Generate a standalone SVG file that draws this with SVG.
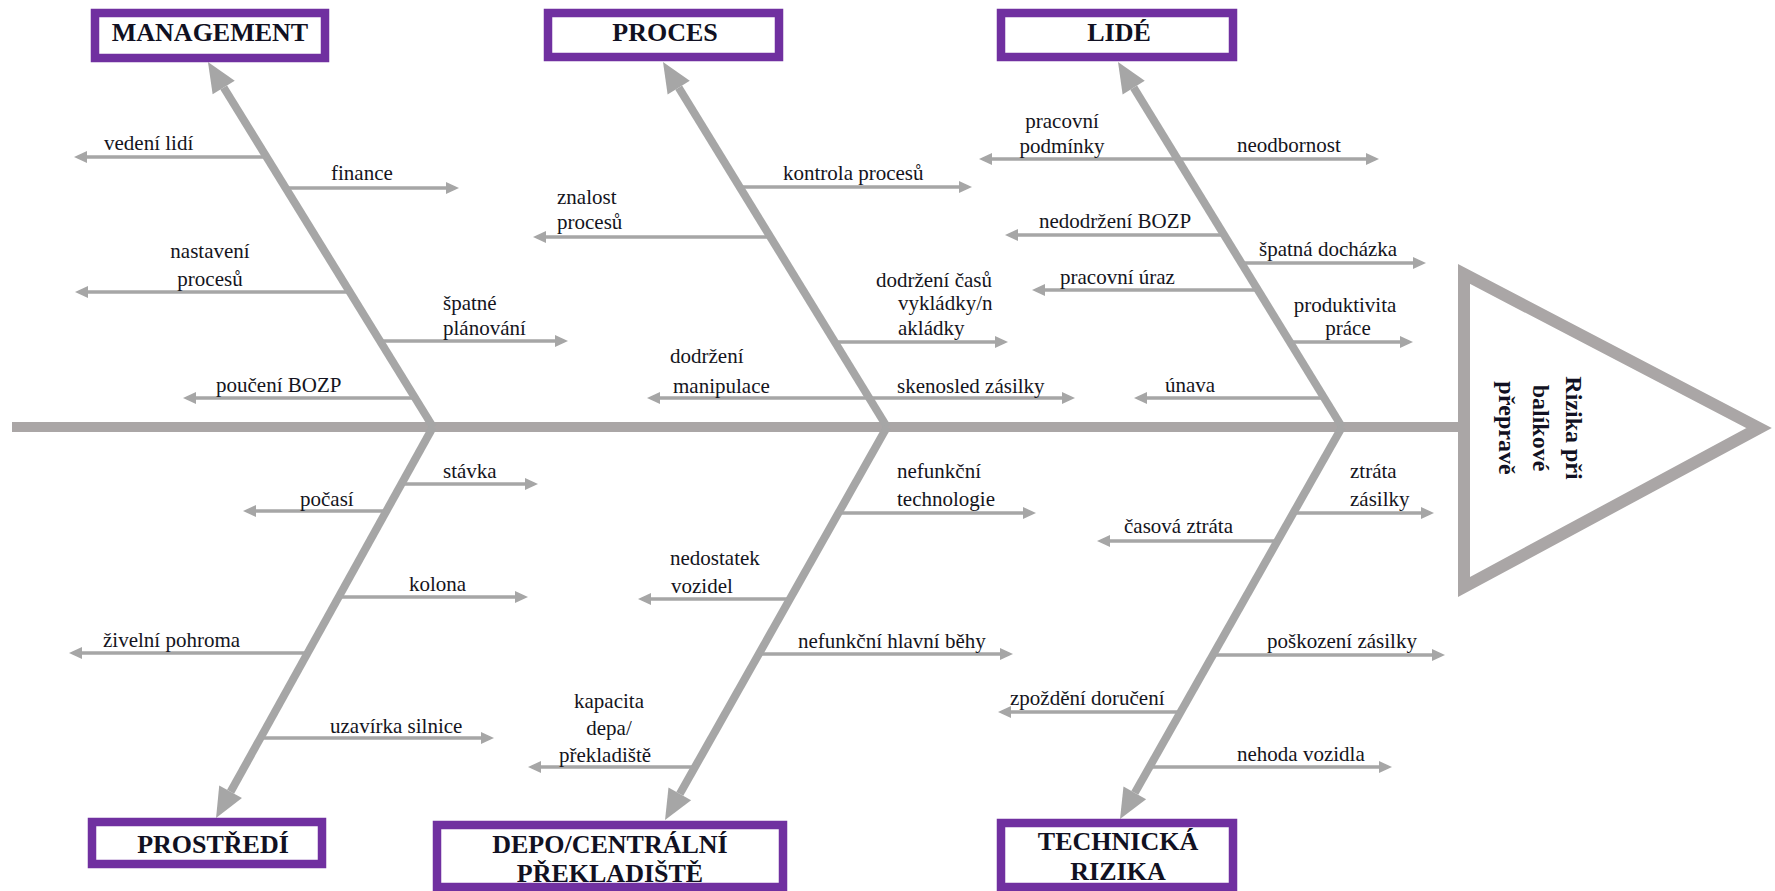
<svg xmlns="http://www.w3.org/2000/svg" width="1775" height="891" viewBox="0 0 1775 891">
<style>
.bg{fill:#ffffff}
.spine{stroke:#aaa6a6;stroke-width:10;fill:none}
.bone{stroke:#a6a6a6;stroke-width:8;fill:none;marker-end:url(#big)}
.sub{stroke:#a6a6a6;stroke-width:3.5;fill:none;marker-end:url(#sm)}
.box{fill:#ffffff;stroke:#7030a0;stroke-width:8.5}
.head{fill:#ffffff;stroke:#aaa6a6;stroke-width:12;stroke-linejoin:miter;stroke-miterlimit:10}
.t{font-family:"Liberation Serif","Times New Roman",serif;font-size:21px;fill:#141420}
.m{text-anchor:middle}
.title{font-family:"Liberation Serif","Times New Roman",serif;font-size:26px;font-weight:bold;fill:#111122;text-anchor:middle}
.eff{font-family:"Liberation Serif","Times New Roman",serif;font-size:24px;font-weight:bold;fill:#111122;text-anchor:middle}
</style>
<defs>
<marker id="big" markerUnits="userSpaceOnUse" markerWidth="40" markerHeight="40" viewBox="0 -20 40 40" refX="0" refY="0" orient="auto" overflow="visible"><path d="M0,-13 L30,0 L0,13 z" fill="#a6a6a6"/></marker>
<marker id="sm" markerUnits="userSpaceOnUse" markerWidth="20" markerHeight="20" viewBox="0 -10 20 20" refX="0" refY="0" orient="auto" overflow="visible"><path d="M0,-6 L13,0 L0,6 z" fill="#a6a6a6"/></marker>
</defs>
<rect class="bg" x="0" y="0" width="1775" height="891"/>

<g id="connectors">
<line class="spine" x1="12" y1="427" x2="1460" y2="427"/>
<line class="bone" x1="433" y1="427" x2="223.7" y2="87.5"/>
<line class="bone" x1="887" y1="427" x2="678.7" y2="87.6"/>
<line class="bone" x1="1342" y1="427" x2="1133.7" y2="87.6"/>
<line class="bone" x1="433" y1="427" x2="230.6" y2="791.8"/>
<line class="bone" x1="887" y1="427" x2="679.8" y2="793.9"/>
<line class="bone" x1="1342" y1="427" x2="1134.8" y2="792.9"/>

<line class="sub" x1="267" y1="157" x2="87" y2="157"/>
<line class="sub" x1="286" y1="188" x2="446" y2="188"/>
<line class="sub" x1="350" y1="292" x2="88" y2="292"/>
<line class="sub" x1="380" y1="341" x2="555" y2="341"/>
<line class="sub" x1="415" y1="398" x2="196" y2="398"/>

<line class="sub" x1="740" y1="187" x2="959" y2="187"/>
<line class="sub" x1="770" y1="237" x2="546" y2="237"/>
<line class="sub" x1="835" y1="342" x2="995" y2="342"/>
<line class="sub" x1="869" y1="398" x2="660" y2="398"/>
<line class="sub" x1="869" y1="398" x2="1062" y2="398"/>

<line class="sub" x1="1177" y1="159" x2="992" y2="159"/>
<line class="sub" x1="1177" y1="159" x2="1366" y2="159"/>
<line class="sub" x1="1224" y1="235" x2="1018" y2="235"/>
<line class="sub" x1="1241" y1="263" x2="1413" y2="263"/>
<line class="sub" x1="1258" y1="290" x2="1045" y2="290"/>
<line class="sub" x1="1290" y1="342" x2="1400" y2="342"/>
<line class="sub" x1="1324" y1="398" x2="1147" y2="398"/>

<line class="sub" x1="401" y1="484" x2="525" y2="484"/>
<line class="sub" x1="386" y1="511" x2="256" y2="511"/>
<line class="sub" x1="339" y1="597" x2="515" y2="597"/>
<line class="sub" x1="308" y1="653" x2="82" y2="653"/>
<line class="sub" x1="260" y1="738" x2="481" y2="738"/>

<line class="sub" x1="838" y1="513" x2="1023" y2="513"/>
<line class="sub" x1="790" y1="599" x2="651" y2="599"/>
<line class="sub" x1="759" y1="654" x2="1000" y2="654"/>
<line class="sub" x1="695" y1="767" x2="541" y2="767"/>

<line class="sub" x1="1293" y1="513" x2="1421" y2="513"/>
<line class="sub" x1="1277" y1="541" x2="1110" y2="541"/>
<line class="sub" x1="1213" y1="655" x2="1432" y2="655"/>
<line class="sub" x1="1181" y1="712" x2="1011" y2="712"/>
<line class="sub" x1="1150" y1="767" x2="1379" y2="767"/>
</g>

<g id="effect">
<polygon class="head" points="1464,274 1464,587 1759,428"/>
<g transform="translate(1566,428) rotate(90)">
<text class="eff" x="0" y="0">Rizika při</text>
<text class="eff" x="0" y="33">balíkové</text>
<text class="eff" x="0" y="67">přepravě</text>
</g>
</g>

<g id="management">
<rect class="box" x="95" y="13" width="230" height="45"/>
<text class="title" x="210" y="41">MANAGEMENT</text>
<text class="t" x="104" y="150">vedení lidí</text>
<text class="t" x="331" y="180">finance</text>
<text class="t m" x="210" y="258">nastavení</text>
<text class="t m" x="210" y="286">procesů</text>
<text class="t" x="443" y="310">špatné</text>
<text class="t" x="443" y="335">plánování</text>
<text class="t" x="216" y="392">poučení BOZP</text>
</g>

<g id="proces">
<rect class="box" x="548" y="13" width="231" height="44"/>
<text class="title" x="665" y="41">PROCES</text>
<text class="t" x="783" y="180">kontrola procesů</text>
<text class="t" x="557" y="204">znalost</text>
<text class="t" x="557" y="229">procesů</text>
<text class="t m" x="934" y="287">dodržení časů</text>
<text class="t" x="898" y="310">vykládky/n</text>
<text class="t" x="898" y="335">akládky</text>
<text class="t" x="670" y="363">dodržení</text>
<text class="t" x="673" y="393">manipulace</text>
<text class="t" x="897" y="393">skenosled zásilky</text>
</g>

<g id="lide">
<rect class="box" x="1001" y="13" width="232" height="44"/>
<text class="title" x="1119" y="41">LIDÉ</text>
<text class="t m" x="1062" y="128">pracovní</text>
<text class="t m" x="1062" y="153">podmínky</text>
<text class="t" x="1237" y="152">neodbornost</text>
<text class="t" x="1039" y="228">nedodržení BOZP</text>
<text class="t" x="1259" y="256">špatná docházka</text>
<text class="t" x="1060" y="284">pracovní úraz</text>
<text class="t m" x="1345" y="312">produktivita</text>
<text class="t m" x="1348" y="335">práce</text>
<text class="t" x="1165" y="392">únava</text>
</g>

<g id="prostredi">
<rect class="box" x="92" y="822" width="230" height="42"/>
<text class="title" x="213" y="853">PROSTŘEDÍ</text>
<text class="t" x="443" y="478">stávka</text>
<text class="t" x="300" y="506">počasí</text>
<text class="t" x="409" y="591">kolona</text>
<text class="t" x="103" y="647">živelní pohroma</text>
<text class="t" x="330" y="733">uzavírka silnice</text>
</g>

<g id="depo">
<rect class="box" x="437" y="825" width="346" height="62"/>
<text class="title" x="610" y="853">DEPO/CENTRÁLNÍ</text>
<text class="title" x="610" y="882">PŘEKLADIŠTĚ</text>
<text class="t" x="897" y="478">nefunkční</text>
<text class="t" x="897" y="506">technologie</text>
<text class="t" x="670" y="565">nedostatek</text>
<text class="t" x="671" y="593">vozidel</text>
<text class="t" x="798" y="648">nefunkční hlavní běhy</text>
<text class="t m" x="609" y="708">kapacita</text>
<text class="t m" x="609" y="735">depa/</text>
<text class="t m" x="605" y="762">překladiště</text>
</g>

<g id="technicka">
<rect class="box" x="1001" y="823" width="232" height="64"/>
<text class="title" x="1118" y="850">TECHNICKÁ</text>
<text class="title" x="1118" y="880">RIZIKA</text>
<text class="t" x="1350" y="478">ztráta</text>
<text class="t" x="1350" y="506">zásilky</text>
<text class="t" x="1124" y="533">časová ztráta</text>
<text class="t" x="1267" y="648">poškození zásilky</text>
<text class="t" x="1010" y="705">zpoždění doručení</text>
<text class="t" x="1237" y="761">nehoda vozidla</text>
</g>
</svg>
